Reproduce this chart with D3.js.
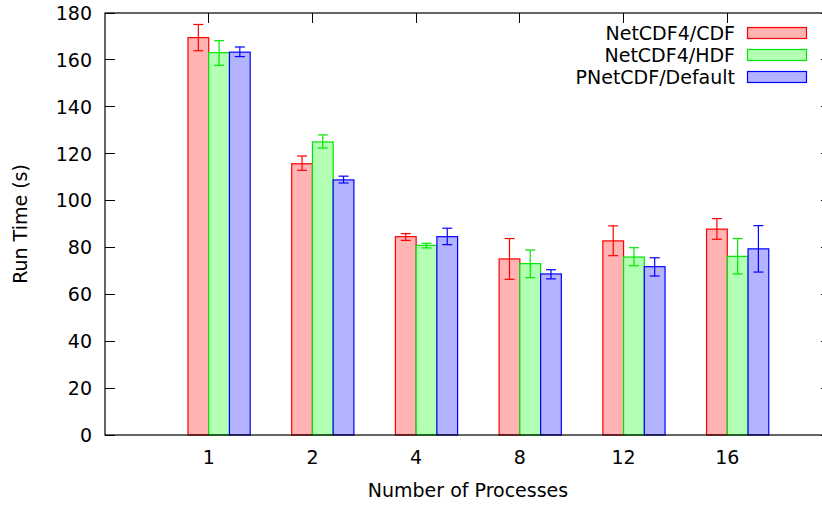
<!DOCTYPE html>
<html>
<head>
<meta charset="utf-8">
<script src="https://cdn.jsdelivr.net/npm/d3@7.9.0/dist/d3.min.js"></script>
<style>
  body { margin: 0; background: #fff; }
  text { font-family: "DejaVu Sans", sans-serif; font-size: 19px; fill: #000; }
</style>
</head>
<body>
<svg id="chart" width="822" height="506"></svg>
<script>
// values
const categories = ['1', '2', '4', '8', '12', '16'];
const seriesNames = ['NetCDF4/CDF', 'NetCDF4/HDF', 'PNetCDF/Default'];

const cdfMean = [169.5, 115.7, 84.6, 75.1, 82.8, 87.8];
const cdfLow  = [163.9, 112.9, 83.0, 66.4, 76.5, 83.5];
const cdfHigh = [175.1, 119.0, 85.9, 83.8, 89.2, 92.3];

const hdfMean = [163.1, 125.0, 80.9, 73.1, 75.9, 76.2];
const hdfLow  = [157.7, 122.4, 79.8, 67.1, 72.2, 68.7];
const hdfHigh = [168.2, 128.0, 81.8, 78.9, 79.9, 83.8];

const pncMean = [163.3, 108.8, 84.6, 68.7, 71.8, 79.4];
const pncLow  = [161.4, 107.5, 81.2, 66.6, 67.8, 69.5];
const pncHigh = [165.5, 110.4, 88.2, 70.5, 75.6, 89.3];

const yTicks = [0, 20, 40, 60, 80, 100, 120, 140, 160, 180];

const series = [
  { name: seriesNames[0], mean: cdfMean, low: cdfLow, high: cdfHigh, stroke: '#ff0000', fill: '#ffb3b3' },
  { name: seriesNames[1], mean: hdfMean, low: hdfLow, high: hdfHigh, stroke: '#00e600', fill: '#b3ffb3' },
  { name: seriesNames[2], mean: pncMean, low: pncLow, high: pncHigh, stroke: '#0000ff', fill: '#b3b3ff' }
];

const plotL = 105, plotR = 831, plotT = 13, plotB = 435;
const svg = d3.select('#chart');

const x = d3.scaleLinear().domain([-1, categories.length]).range([plotL, plotR]);
const y = d3.scaleLinear().domain([0, 180]).range([plotB, plotT]);
const barW = x(0.2) - x(0);
const tickLen = 10;

// x ticks (bottom + mirrored top)
const xt = svg.append('g');
categories.forEach((c, i) => {
  xt.append('line').attr('x1', x(i)).attr('x2', x(i)).attr('y1', plotB).attr('y2', plotB - tickLen)
    .attr('stroke', '#000').attr('shape-rendering', 'crispEdges');
  xt.append('line').attr('x1', x(i)).attr('x2', x(i)).attr('y1', plotT).attr('y2', plotT + tickLen)
    .attr('stroke', '#000').attr('shape-rendering', 'crispEdges');
  xt.append('text').attr('x', x(i)).attr('y', 464).attr('text-anchor', 'middle').text(c);
});

// y ticks (left + mirrored right)
const yt = svg.append('g');
yTicks.forEach(t => {
  yt.append('line').attr('x1', plotL).attr('x2', plotL + tickLen).attr('y1', y(t)).attr('y2', y(t))
    .attr('stroke', '#000').attr('shape-rendering', 'crispEdges');
  yt.append('line').attr('x1', plotR).attr('x2', plotR - tickLen).attr('y1', y(t)).attr('y2', y(t))
    .attr('stroke', '#000').attr('shape-rendering', 'crispEdges');
  yt.append('text').attr('x', 92).attr('y', y(t)).attr('dy', '0.36em').attr('text-anchor', 'end').text(t);
});

// bars + error bars
series.forEach((s, j) => {
  const g = svg.append('g');
  g.selectAll('rect')
    .data(s.mean)
    .enter()
    .append('rect')
      .attr('x', (d, i) => x(i) + (j - 1) * barW)
      .attr('y', d => y(d))
      .attr('width', barW)
      .attr('height', d => y(0) - y(d))
      .attr('fill', s.fill)
      .attr('stroke', s.stroke)
      .attr('stroke-width', 1.2);

  s.mean.forEach((d, i) => {
    const cx = x(i) + (j - 0.5) * barW;
    g.append('line').attr('x1', cx).attr('x2', cx).attr('y1', y(s.low[i])).attr('y2', y(s.high[i]))
      .attr('stroke', s.stroke).attr('stroke-width', 1.2);
    [s.low[i], s.high[i]].forEach(v => {
      g.append('line').attr('x1', cx - 5).attr('x2', cx + 5).attr('y1', y(v)).attr('y2', y(v))
        .attr('stroke', s.stroke).attr('stroke-width', 1.2);
    });
  });
});

// border
svg.append('rect')
  .attr('x', plotL).attr('y', plotT).attr('width', plotR - plotL).attr('height', plotB - plotT)
  .attr('fill', 'none').attr('stroke', '#000').attr('stroke-width', 1.2);

// legend
series.forEach((s, j) => {
  const ly = 33 + j * 22;
  svg.append('text').attr('x', 735).attr('y', ly).attr('dy', '0.36em').attr('text-anchor', 'end').text(s.name);
  svg.append('rect').attr('x', 747.5).attr('y', ly - 5.5).attr('width', 59).attr('height', 11)
    .attr('fill', s.fill).attr('stroke', s.stroke).attr('stroke-width', 1.2);
});

// axis titles
svg.append('text').attr('x', (plotL + plotR) / 2).attr('y', 497).attr('text-anchor', 'middle').text('Number of Processes');
svg.append('text')
  .attr('transform', `translate(27, ${(plotT + plotB) / 2}) rotate(-90)`)
  .attr('text-anchor', 'middle')
  .text('Run Time (s)');
</script>
</body>
</html>
